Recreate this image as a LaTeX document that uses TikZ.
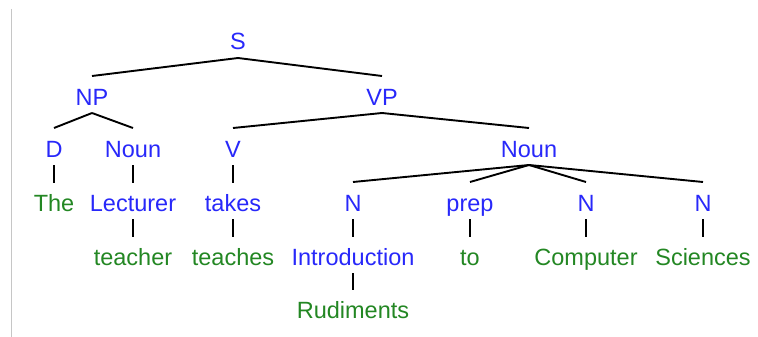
\documentclass[tikz,border=0pt]{standalone}
\usepackage{fontspec}
\setmainfont{Liberation Sans}
\definecolor{tblue}{RGB}{40,40,250}
\definecolor{tgreen}{RGB}{35,135,35}
\begin{document}
\begin{tikzpicture}[x=1pt,y=-1pt,
  lbl/.style={anchor=base,inner sep=0pt,font=\fontsize{23.5}{28}\selectfont},
  cat/.style={lbl,text=tblue},
  wrd/.style={lbl,text=tgreen},
  br/.style={draw=black,line width=1.9pt},
  tick/.style={draw=black,line width=1.3pt}]
\useasboundingbox (0,0) rectangle (758,337);
\fill[white] (0,0) rectangle (758,337);
\draw[gray!45,line width=1pt] (11,9) -- (11,337);
% row 1
\node[cat] (S) at (238,50) {S};
% row 2
\node[cat] (NP) at (92,105) {NP};
\node[cat] (VP) at (382,105) {VP};
% row 3
\node[cat] (D) at (54,157) {D};
\node[cat] (Noun1) at (133,157) {Noun};
\node[cat] (V) at (233,157) {V};
\node[cat] (Noun2) at (529,157) {Noun};
% row 4
\node[wrd] (The) at (54,211) {The};
\node[cat] (Lect) at (133,211) {Lecturer};
\node[cat] (takes) at (233,211) {takes};
\node[cat] (N1) at (353,211) {N};
\node[cat] (prep) at (470,211) {prep};
\node[cat] (N2) at (586,211) {N};
\node[cat] (N3) at (703,211) {N};
% row 5
\node[wrd] (teacher) at (133,265) {teacher};
\node[wrd] (teaches) at (233,265) {teaches};
\node[cat] (Intro) at (353,265) {Introduction};
\node[wrd] (to) at (470,265) {to};
\node[wrd] (Comp) at (586,265) {Computer};
\node[wrd] (Sci) at (703,265) {Sciences};
% row 6
\node[wrd] (Rud) at (353,318) {Rudiments};
% branches
\foreach \p/\c in {S/NP,S/VP,NP/D,NP/Noun1,VP/V,VP/Noun2,Noun2/N1,Noun2/prep,Noun2/N2,Noun2/N3}
  \draw[br] ([yshift=-8pt]\p.base) -- ([yshift=29pt]\c.base);
% ticks
\foreach \p/\c in {D/The,Noun1/Lect,V/takes,Lect/teacher,takes/teaches,N1/Intro,prep/to,N2/Comp,N3/Sci,Intro/Rud}
  \draw[tick] ([yshift=-8pt]\p.base) -- ([yshift=28pt]\c.base);
\end{tikzpicture}
\end{document}
